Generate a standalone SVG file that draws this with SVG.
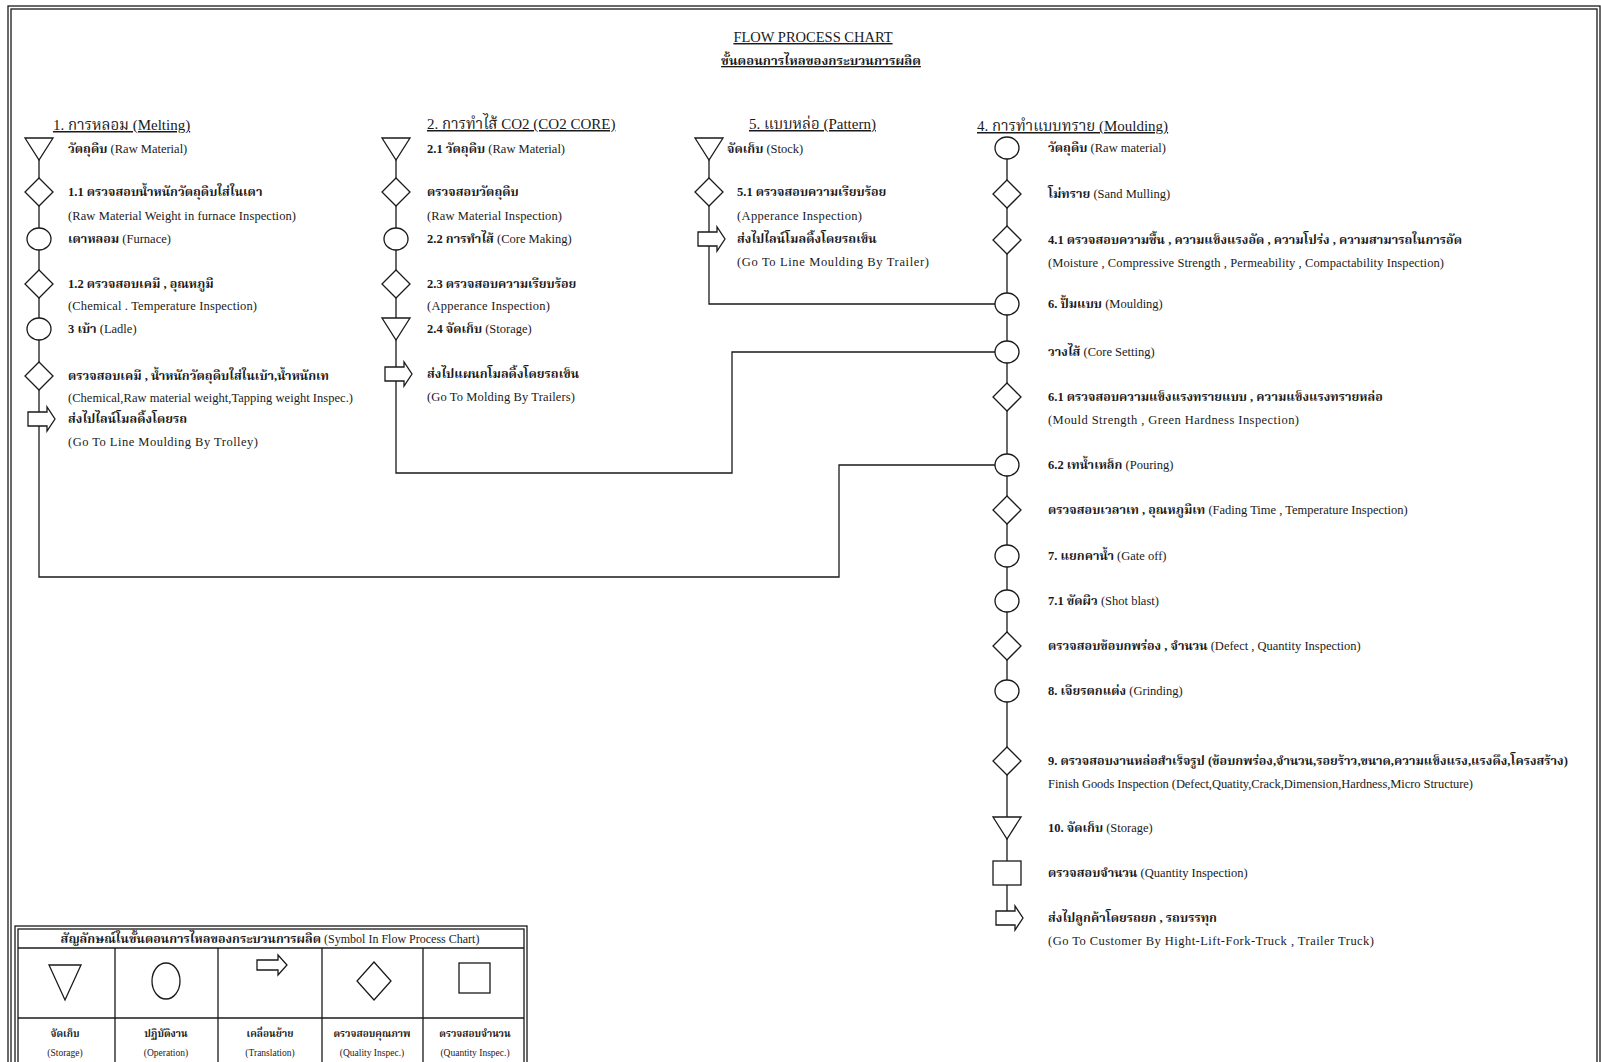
<svg xmlns="http://www.w3.org/2000/svg" xmlns:xlink="http://www.w3.org/1999/xlink" width="1601" height="1062" viewBox="0 0 1601 1062">
<style>
text{font-family:"Liberation Serif","Noto Serif Thai","Noto Sans Thai","Loma","Garuda",serif;fill:#1a1a1a}
.th{font-size:12.5px;font-weight:bold}
.en{font-size:12.5px;font-weight:normal}
.hd{font-size:15px;font-weight:normal;text-decoration:underline}
.ti{font-size:14.5px;text-decoration:underline}
.sym{fill:#fff;stroke:#1a1a1a;stroke-width:1.3}
.ln{fill:none;stroke:#1a1a1a;stroke-width:1.3}
.lg{font-size:9.5px}
</style>
<defs>
<polygon id="tri" class="sym" points="-14,-11 14,-11 0,11"/>
<polygon id="dia" class="sym" points="0,-14 14,0 0,14 -14,0"/>
<ellipse id="circ" class="sym" cx="0" cy="0" rx="12" ry="11"/>
<path id="arr" class="sym" d="M-11,-7 H8 V-12 L16,0 L8,12 V7 H-11 Z"/>
<rect id="sq" class="sym" x="-14" y="-12" width="28" height="24"/>
</defs>
<rect width="1601" height="1062" fill="#fff"/>
<g id="frame" class="ln">
<rect x="8" y="6" width="1592" height="1062"/>
<rect x="11" y="9" width="1586" height="1062"/>
</g>
<g id="title">
<text class="ti" x="813" y="42" text-anchor="middle">FLOW PROCESS CHART</text>
<text class="ti" x="821" y="65" text-anchor="middle" style="font-size:13px;font-weight:bold">ขั้นตอนการไหลของกระบวนการผลิต</text>
</g>
<g id="connectors" class="ln">
<polyline points="39,150 39,577 839,577 839,465 995,465"/>
<polyline points="396,150 396,473 732,473 732,352 995,352"/>
<polyline points="709,150 709,304 995,304"/>
<line x1="1007" y1="148" x2="1007" y2="918"/>
</g>
<g id="col1">
<text class="hd" x="53" y="130">1. การหลอม (Melting)</text>
<g id="n1_1"><use xlink:href="#tri" x="39" y="149"/><text class="th" x="68" y="153">วัตถุดิบ<tspan class="en"> (Raw Material)</tspan></text></g>
<g id="n1_2"><use xlink:href="#dia" x="39" y="192"/><text class="th" x="68" y="196">1.1 ตรวจสอบน้ำหนักวัตถุดิบใส่ในเตา</text><text class="en" x="68" y="220" textLength="228">(Raw Material Weight in furnace Inspection)</text></g>
<g id="n1_3"><use xlink:href="#circ" x="39" y="239"/><text class="th" x="68" y="243">เตาหลอม<tspan class="en"> (Furnace)</tspan></text></g>
<g id="n1_4"><use xlink:href="#dia" x="39" y="284"/><text class="th" x="68" y="288">1.2 ตรวจสอบเคมี , อุณหภูมิ</text><text class="en" x="68" y="310" textLength="189">(Chemical . Temperature Inspection)</text></g>
<g id="n1_5"><use xlink:href="#circ" x="39" y="329"/><text class="th" x="68" y="333">3 เบ้า<tspan class="en"> (Ladle)</tspan></text></g>
<g id="n1_6"><use xlink:href="#dia" x="39" y="376"/><text class="th" x="68" y="380">ตรวจสอบเคมี , น้ำหนักวัตถุดิบใส่ในเบ้า,น้ำหนักเท</text><text class="en" x="68" y="402" textLength="285">(Chemical,Raw material weight,Tapping weight Inspec.)</text></g>
<g id="n1_7"><use xlink:href="#arr" x="39" y="419"/><text class="th" x="68" y="423">ส่งไปไลน์โมลดิ้งโดยรถ</text><text class="en" x="68" y="446" textLength="190">(Go To Line Moulding By Trolley)</text></g>
</g>
<g id="col2">
<text class="hd" x="427" y="129">2. การทำไส้ CO2 (CO2 CORE)</text>
<g id="n2_1"><use xlink:href="#tri" x="396" y="149"/><text class="th" x="427" y="153">2.1 วัตถุดิบ<tspan class="en"> (Raw Material)</tspan></text></g>
<g id="n2_2"><use xlink:href="#dia" x="396" y="192"/><text class="th" x="427" y="196">ตรวจสอบวัตถุดิบ</text><text class="en" x="427" y="220" textLength="135">(Raw Material Inspection)</text></g>
<g id="n2_3"><use xlink:href="#circ" x="396" y="239"/><text class="th" x="427" y="243">2.2 การทำไส้<tspan class="en"> (Core Making)</tspan></text></g>
<g id="n2_4"><use xlink:href="#dia" x="396" y="284"/><text class="th" x="427" y="288">2.3 ตรวจสอบความเรียบร้อย</text><text class="en" x="427" y="310" textLength="123">(Apperance Inspection)</text></g>
<g id="n2_5"><use xlink:href="#tri" x="396" y="329"/><text class="th" x="427" y="333">2.4 จัดเก็บ<tspan class="en"> (Storage)</tspan></text></g>
<g id="n2_6"><use xlink:href="#arr" x="396" y="374"/><text class="th" x="427" y="378">ส่งไปแผนกโมลดิ้งโดยรถเข็น</text><text class="en" x="427" y="401" textLength="148">(Go To Molding By Trailers)</text></g>
</g>
<g id="col3">
<text class="hd" x="749" y="129">5. แบบหล่อ (Pattern)</text>
<g id="n3_1"><use xlink:href="#tri" x="709" y="149"/><text class="th" x="727" y="153">จัดเก็บ<tspan class="en"> (Stock)</tspan></text></g>
<g id="n3_2"><use xlink:href="#dia" x="709" y="192"/><text class="th" x="737" y="196">5.1 ตรวจสอบความเรียบร้อย</text><text class="en" x="737" y="220" textLength="125">(Apperance Inspection)</text></g>
<g id="n3_3"><use xlink:href="#arr" x="709" y="239"/><text class="th" x="737" y="243">ส่งไปไลน์โมลดิ้งโดยรถเข็น</text><text class="en" x="737" y="266" textLength="192">(Go To Line Moulding By Trailer)</text></g>
</g>
<g id="col4">
<text class="hd" x="977" y="131">4. การทำแบบทราย (Moulding)</text>
<g id="n4_1"><use xlink:href="#circ" x="1007" y="148"/><text class="th" x="1048" y="152">วัตถุดิบ<tspan class="en"> (Raw material)</tspan></text></g>
<g id="n4_2"><use xlink:href="#dia" x="1007" y="194"/><text class="th" x="1048" y="198">โม่ทราย<tspan class="en"> (Sand Mulling)</tspan></text></g>
<g id="n4_3"><use xlink:href="#dia" x="1007" y="240"/><text class="th" x="1048" y="244">4.1 ตรวจสอบความชื้น , ความแข็งแรงอัด , ความโปร่ง , ความสามารถในการอัด</text><text class="en" x="1048" y="267" textLength="396">(Moisture , Compressive Strength , Permeability , Compactability Inspection)</text></g>
<g id="n4_4"><use xlink:href="#circ" x="1007" y="304"/><text class="th" x="1048" y="308">6. ปั้มแบบ<tspan class="en"> (Moulding)</tspan></text></g>
<g id="n4_5"><use xlink:href="#circ" x="1007" y="352"/><text class="th" x="1048" y="356">วางไส้<tspan class="en"> (Core Setting)</tspan></text></g>
<g id="n4_6"><use xlink:href="#dia" x="1007" y="397"/><text class="th" x="1048" y="401">6.1 ตรวจสอบความแข็งแรงทรายแบบ , ความแข็งแรงทรายหล่อ</text><text class="en" x="1048" y="424" textLength="251">(Mould Strength , Green Hardness Inspection)</text></g>
<g id="n4_7"><use xlink:href="#circ" x="1007" y="465"/><text class="th" x="1048" y="469">6.2 เทน้ำเหล็ก<tspan class="en"> (Pouring)</tspan></text></g>
<g id="n4_8"><use xlink:href="#dia" x="1007" y="510"/><text class="th" x="1048" y="514">ตรวจสอบเวลาเท , อุณหภูมิเท<tspan class="en"> (Fading Time , Temperature Inspection)</tspan></text></g>
<g id="n4_9"><use xlink:href="#circ" x="1007" y="556"/><text class="th" x="1048" y="560">7. แยกคาน้ำ<tspan class="en"> (Gate off)</tspan></text></g>
<g id="n4_10"><use xlink:href="#circ" x="1007" y="601"/><text class="th" x="1048" y="605">7.1 ขัดผิว<tspan class="en"> (Shot blast)</tspan></text></g>
<g id="n4_11"><use xlink:href="#dia" x="1007" y="646"/><text class="th" x="1048" y="650">ตรวจสอบข้อบกพร่อง , จำนวน<tspan class="en"> (Defect , Quantity Inspection)</tspan></text></g>
<g id="n4_12"><use xlink:href="#circ" x="1007" y="691"/><text class="th" x="1048" y="695">8. เจียรตกแต่ง<tspan class="en"> (Grinding)</tspan></text></g>
<g id="n4_13"><use xlink:href="#dia" x="1007" y="761"/><text class="th" x="1048" y="765">9. ตรวจสอบงานหล่อสำเร็จรูป (ข้อบกพร่อง,จำนวน,รอยร้าว,ขนาด,ความแข็งแรง,แรงดึง,โครงสร้าง)</text><text class="en" x="1048" y="788" textLength="425">Finish Goods Inspection (Defect,Quatity,Crack,Dimension,Hardness,Micro Structure)</text></g>
<g id="n4_14"><use xlink:href="#tri" x="1007" y="828"/><text class="th" x="1048" y="832">10. จัดเก็บ<tspan class="en"> (Storage)</tspan></text></g>
<g id="n4_15"><use xlink:href="#sq" x="1007" y="873"/><text class="th" x="1048" y="877">ตรวจสอบจำนวน<tspan class="en"> (Quantity Inspection)</tspan></text></g>
<g id="n4_16"><use xlink:href="#arr" x="1007" y="918"/><text class="th" x="1048" y="922">ส่งไปลูกค้าโดยรถยก , รถบรรทุก</text><text class="en" x="1048" y="945" textLength="326">(Go To Customer By Hight-Lift-Fork-Truck , Trailer Truck)</text></g>
</g>
<g id="legend">
<rect class="ln" x="15" y="926" width="512" height="140"/>
<rect class="ln" x="18" y="929" width="506" height="140"/>
<line class="ln" x1="18" y1="948" x2="524" y2="948"/>
<line class="ln" x1="18" y1="1018" x2="524" y2="1018"/>
<line class="ln" x1="115" y1="948" x2="115" y2="1062"/>
<line class="ln" x1="218" y1="948" x2="218" y2="1062"/>
<line class="ln" x1="322" y1="948" x2="322" y2="1062"/>
<line class="ln" x1="423" y1="948" x2="423" y2="1062"/>
<text class="th" x="270" y="943" text-anchor="middle" style="font-size:12.5px">สัญลักษณ์ในขั้นตอนการไหลของกระบวนการผลิต<tspan class="en" style="font-size:12px"> (Symbol In Flow Process Chart)</tspan></text>
<polygon class="sym" points="49,965 81,965 65,1000"/>
<ellipse class="sym" cx="166" cy="981" rx="14" ry="18"/>
<path class="sym" d="M257,960 H278 V955 L287,965 L278,975 V970 H257 Z"/>
<polygon class="sym" points="374,962 391,981 374,1000 357,981"/>
<rect class="sym" x="459" y="963" width="31" height="30"/>
<text class="lg th" x="65" y="1037" text-anchor="middle" style="font-size:10px">จัดเก็บ</text>
<text class="lg" x="65" y="1056" text-anchor="middle">(Storage)</text>
<text class="lg th" x="166" y="1037" text-anchor="middle" style="font-size:10px">ปฏิบัติงาน</text>
<text class="lg" x="166" y="1056" text-anchor="middle">(Operation)</text>
<text class="lg th" x="270" y="1037" text-anchor="middle" style="font-size:10px">เคลื่อนย้าย</text>
<text class="lg" x="270" y="1056" text-anchor="middle">(Translation)</text>
<text class="lg th" x="372" y="1037" text-anchor="middle" style="font-size:10px">ตรวจสอบคุณภาพ</text>
<text class="lg" x="372" y="1056" text-anchor="middle">(Quality Inspec.)</text>
<text class="lg th" x="475" y="1037" text-anchor="middle" style="font-size:10px">ตรวจสอบจำนวน</text>
<text class="lg" x="475" y="1056" text-anchor="middle">(Quantity Inspec.)</text>
</g>
</svg>
